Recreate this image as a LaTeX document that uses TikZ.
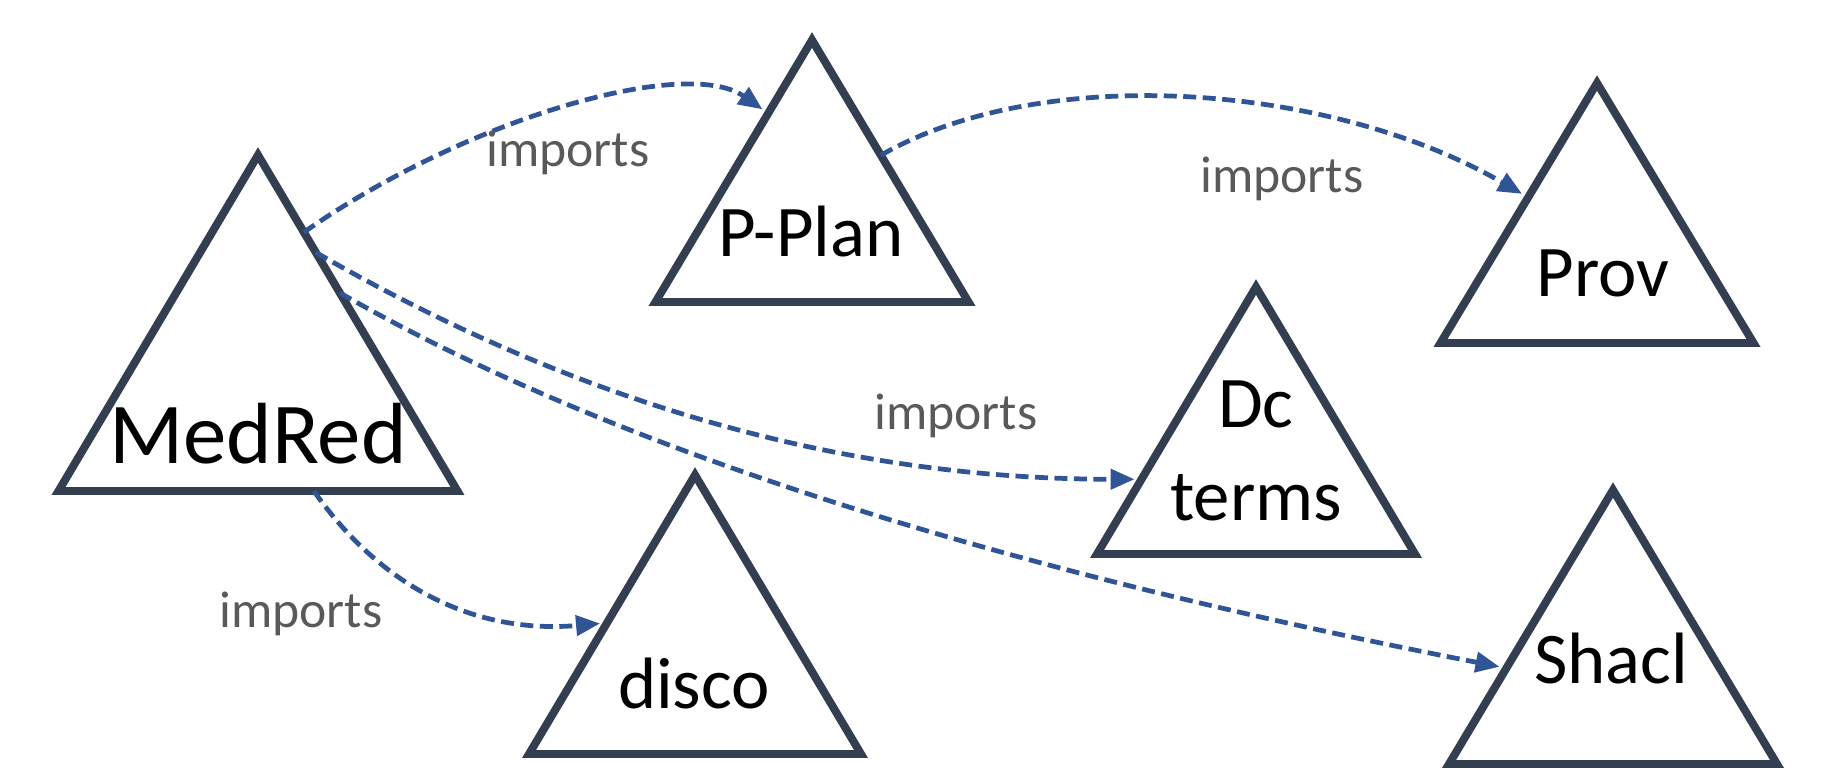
\documentclass[tikz,border=0pt]{standalone}
\usepackage{fontspec}
\setmainfont{Carlito}
\usetikzlibrary{shapes.geometric,arrows.meta,calc}
\definecolor{triline}{HTML}{333F50}
\definecolor{impblue}{HTML}{2F5597}
\definecolor{impgray}{HTML}{595959}

\begin{document}
\begin{tikzpicture}[
    tri/.style={isosceles triangle, isosceles triangle stretches, shape border rotate=90, draw=triline, line width=2.27pt, inner sep=0pt, outer sep=0pt, anchor=apex},
    onto/.style={font=\fontsize{20.7}{26.4}\selectfont, align=center, anchor=base},
    imp/.style={font=\fontsize{14.7}{17}\selectfont, text=impgray, anchor=base},
    arrow/.style={-{Triangle[length=2.4mm,width=2mm]}, draw=impblue, line width=1.35pt, dash pattern=on 1.3mm off 0.65mm, shorten >=2pt}
]
    \useasboundingbox (0,0) rectangle (18.22,-7.80);
    % Ontologies
    \node[tri, minimum width=3.99cm, minimum height=3.36cm] (medred) at (2.58,-1.55) {};
    \node[tri, minimum width=3.13cm, minimum height=2.62cm] (pplan) at (8.12,-0.40) {};
    \node[tri, minimum width=3.13cm, minimum height=2.60cm] (prov) at (15.97,-0.83) {};
    \node[tri, minimum width=3.18cm, minimum height=2.67cm] (dc) at (12.56,-2.87) {};
    \node[tri, minimum width=3.32cm, minimum height=2.79cm] (disco) at (6.95,-4.75) {};
    \node[tri, minimum width=3.28cm, minimum height=2.74cm] (shacl) at (16.13,-4.90) {};
    % Names
    \node[onto, font=\fontsize{24.7}{30}\selectfont] (medred-txt) at ([yshift=0.28cm]medred.lower side) {MedRed};
    \node[onto] (pplan-txt) at ([xshift=-0.01cm, yshift=0.45cm]pplan.lower side) {P-Plan};
    \node[onto] (prov-txt) at ([xshift=0.06cm, yshift=0.46cm]prov.lower side) {Prov};
    \node[onto] (dc-txt) at ([yshift=0.34cm]dc.lower side) {Dc\\terms};
    \node[onto] (disco-txt) at ([xshift=-0.01cm, yshift=0.46cm]disco.lower side) {disco};
    \node[onto] (shacl-txt) at ([xshift=-0.02cm, yshift=0.81cm]shacl.lower side) {Shacl};
    % Imports
    \draw[arrow] ($(medred.apex)!0.23!(medred.right corner)$) .. controls +(35:2.0) and +(145:1.0) .. ($(pplan.apex)!0.28!(pplan.left corner)$);
    \draw[arrow] ($(pplan.apex)!0.44!(pplan.right corner)$) .. controls +(30:1.85) and +(150:2.3) .. ($(prov.apex)!0.44!(prov.left corner)$);
    \draw[arrow] ($(medred.apex)!0.29!(medred.right corner)$) .. controls +(-30:3) and +(180:3) .. ($(dc.apex)!0.72!(dc.left corner)$);
    \draw[arrow] ($(medred.apex)!0.41!(medred.right corner)$) .. controls +(-30:3.7) and +(169:4) .. ($(shacl.apex)!0.65!(shacl.left corner)$);
    \draw[arrow] ($(medred.left corner)!0.64!(medred.right corner)$) .. controls +(-55:1.2) and +(185:1.3) .. ($(disco.apex)!0.53!(disco.left corner)$);
    % Labels
    \node[imp] (imp-pplan) at (5.68,-1.67) {imports};
    \node[imp] (imp-prov) at (12.82,-1.93) {imports};
    \node[imp] (imp-dc) at (9.56,-4.29) {imports};
    \node[imp] (imp-disco) at (3.01,-6.27) {imports};
\end{tikzpicture}
\end{document}
